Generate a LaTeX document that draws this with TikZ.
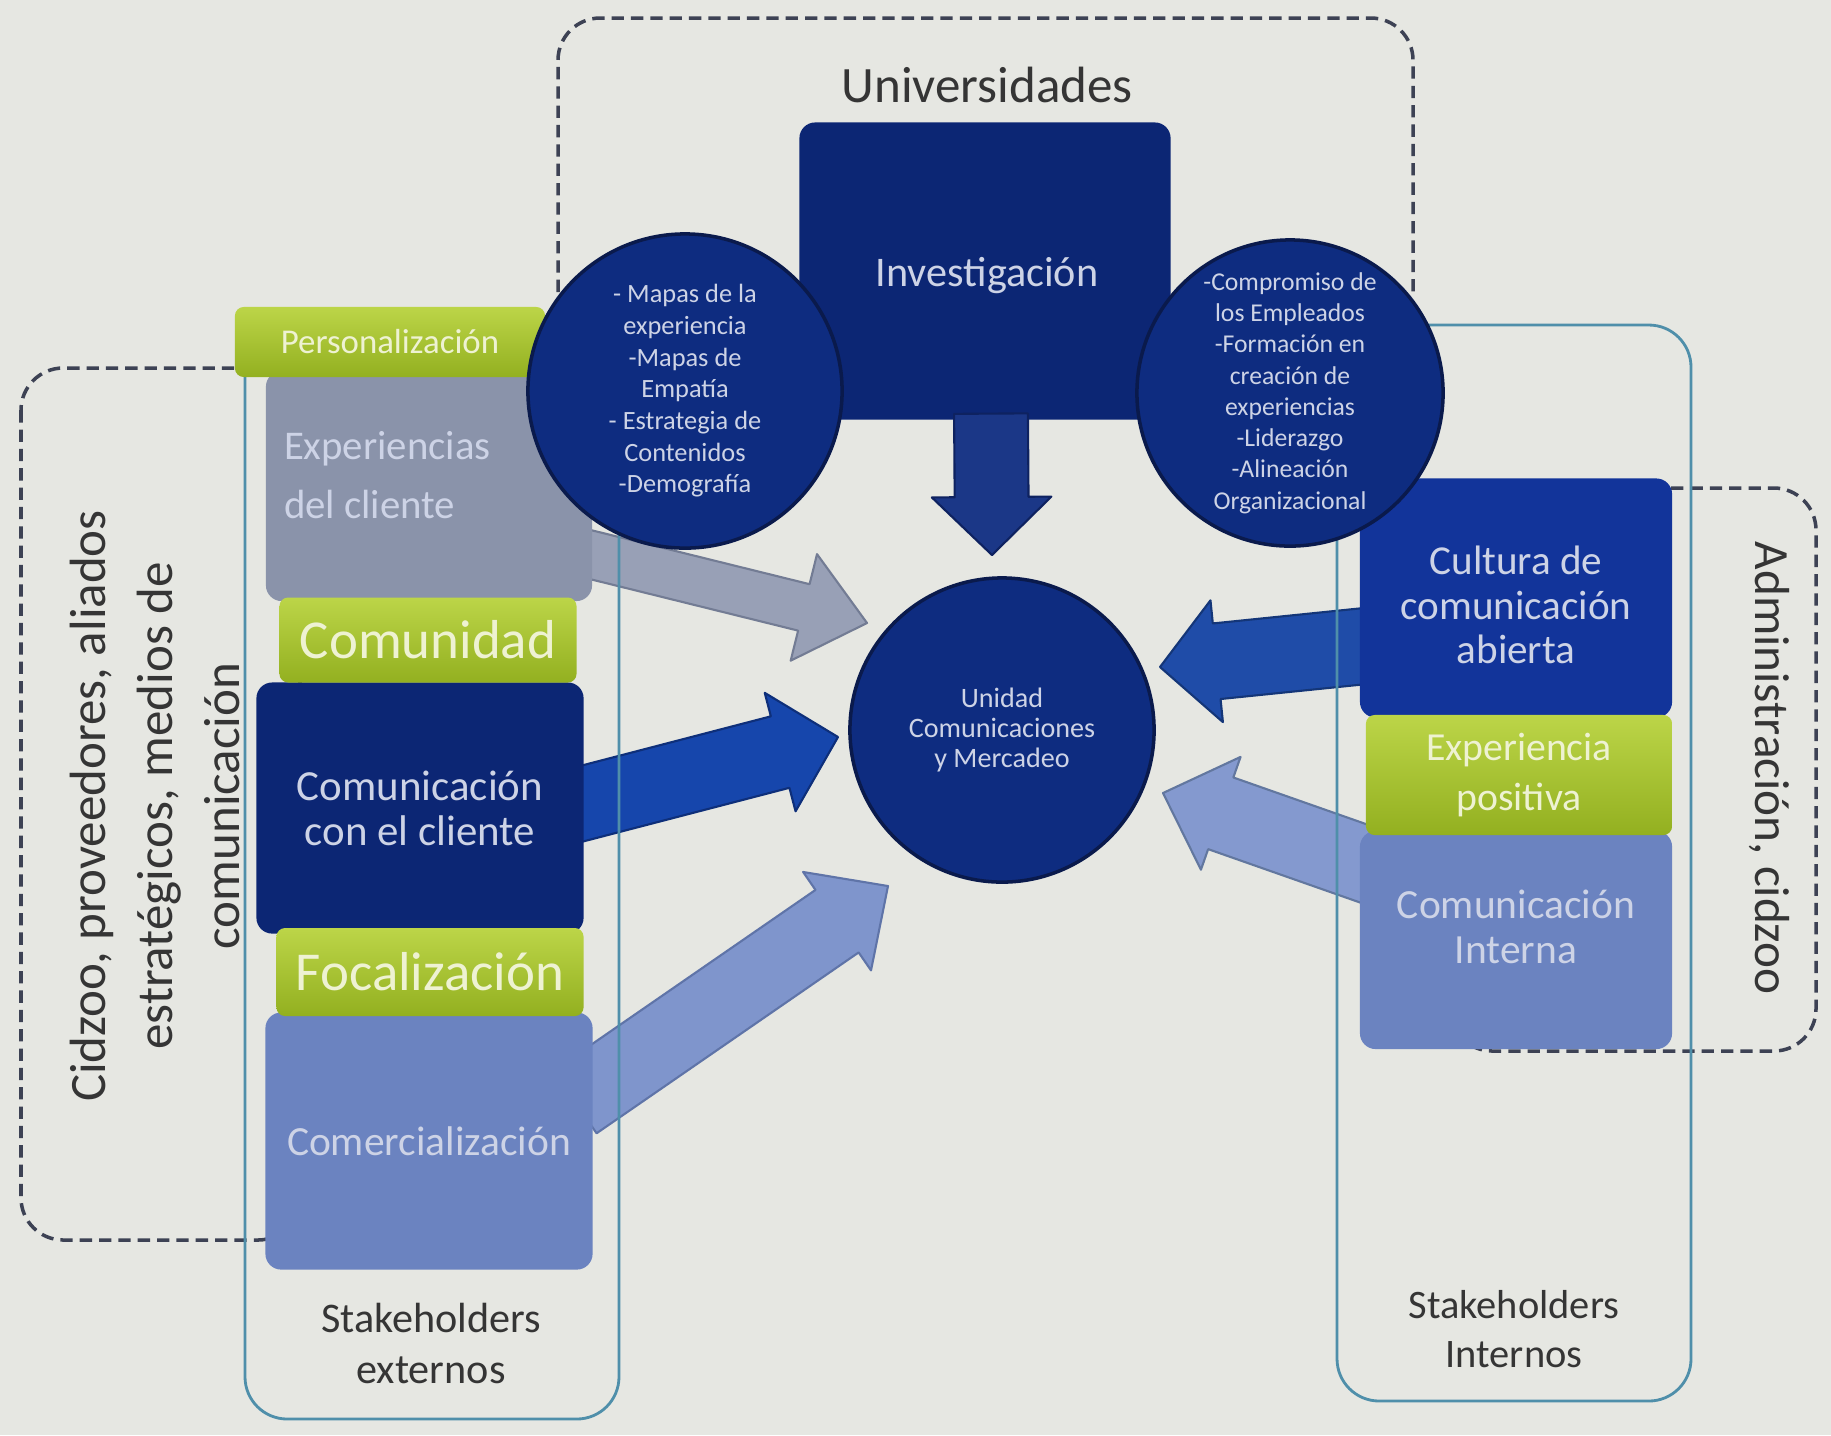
\documentclass[tikz,border=0pt]{standalone}
\usepackage{fontspec}
\setmainfont{Carlito}
\usetikzlibrary{calc}
\newcommand\fs[2]{\fontsize{#1pt}{#2pt}\selectfont}
\definecolor{bg}{HTML}{E6E7E2}
\definecolor{navy}{HTML}{0C2674}
\definecolor{navyc}{HTML}{0E2C80}
\definecolor{navyedge}{HTML}{0A1A4C}
\definecolor{bluebox}{HTML}{12349A}
\definecolor{greybox}{HTML}{8A93AA}
\definecolor{periw}{HTML}{6B83C0}
\definecolor{greenhi}{HTML}{BCD548}
\definecolor{greenlo}{HTML}{93B020}
\definecolor{tealc}{HTML}{4F8FAA}
\definecolor{dashc}{HTML}{3D4254}
\definecolor{boxtext}{HTML}{CDD3E6}
\definecolor{greentext}{HTML}{EEF2D2}
\definecolor{labeltext}{HTML}{353535}
\definecolor{aAfill}{HTML}{98A0B6}\definecolor{aAedge}{HTML}{737C94}
\definecolor{aBfill}{HTML}{1646AC}\definecolor{aBedge}{HTML}{0E2F7A}
\definecolor{aCfill}{HTML}{7F95CC}\definecolor{aCedge}{HTML}{5F74A8}
\definecolor{aDfill}{HTML}{1F4CA8}\definecolor{aDedge}{HTML}{143678}
\definecolor{aEfill}{HTML}{8499CF}\definecolor{aEedge}{HTML}{62779F}
\definecolor{aFfill}{HTML}{1B3787}\definecolor{aFedge}{HTML}{0E2260}
% block arrow: style, start, tip, shaft half width, head half width, head length
\newcommand\blockarrow[6]{%
  \coordinate (abase) at ($(#3)!#6!(#2)$);
  \filldraw[#1] ($(#2)!#4!90:(#3)$) -- ($(abase)!#4!90:(#3)$) -- ($(abase)!#5!90:(#3)$)
    -- (#3) -- ($(abase)!#5!-90:(#3)$) -- ($(abase)!#4!-90:(#3)$) -- ($(#2)!#4!-90:(#3)$) -- cycle;
}
\begin{document}
\begin{tikzpicture}[x=0.01cm,y=-0.01cm,
  every node/.style={inner sep=0pt, outer sep=0pt},
  panel/.style={rounded corners=4.5pt, align=center, text=boxtext},
  navybox/.style={panel, fill=navy},
  bluebox/.style={panel, fill=bluebox},
  greybox/.style={panel, fill=greybox},
  periwbox/.style={panel, fill=periw},
  greenbar/.style={rounded corners=2.5pt, top color=greenhi, bottom color=greenlo, text=greentext, align=center},
  bubble/.style={circle, fill=navyc, draw=navyedge, line width=1pt, text=boxtext, align=center},
  dashbox/.style={draw=dashc, line width=1pt, dash pattern=on 3.5pt off 2pt, rounded corners=12pt},
  tealbox/.style={draw=tealc, line width=0.8pt, rounded corners=12pt},
  label/.style={text=labeltext, align=center},
  arrA/.style={fill=aAfill, draw=aAedge, line width=0.6pt, line join=round},
  arrB/.style={fill=aBfill, draw=aBedge, line width=0.6pt, line join=round},
  arrC/.style={fill=aCfill, draw=aCedge, line width=0.6pt, line join=round},
  arrD/.style={fill=aDfill, draw=aDedge, line width=0.6pt, line join=round},
  arrE/.style={fill=aEfill, draw=aEedge, line width=0.6pt, line join=round},
  arrF/.style={fill=aFfill, draw=aFedge, line width=0.6pt, line join=round}]
\useasboundingbox (0,0) rectangle (1831,1435);
\fill[bg] (0,0) rectangle (1831,1435);

% dashed group frames
\draw[dashbox] (558,292) -- (558,18) -- (1413,18) -- (1413,292);
\draw[dashbox] (21,368) rectangle (300,1240);
\draw[dashbox] (1450,488) rectangle (1816,1051);

% group labels
\node[label, font=\fs{14.5}{16}] (univ) at (987,85) {Universidades};
\node[label, rotate=90, font=\fs{14.5}{19}] (extlab) at (155,806) {Cidzoo, proveedores, aliados\\estratégicos, medios de\\comunicación};
\node[label, rotate=-90, font=\fs{14}{16}] (intlab) at (1769,768) {Administración, cidzoo};

% arrow end points
\coordinate (aAs) at (580,552);   \coordinate (aAt) at (867,623);
\coordinate (aBs) at (565,808);   \coordinate (aBt) at (838,737);
\coordinate (aCs) at (575,1102);  \coordinate (aCt) at (888,886);
\coordinate (aDs) at (1385,644);  \coordinate (aDt) at (1160,667);
\coordinate (aEs) at (1385,871);  \coordinate (aEt) at (1163,793);

\blockarrow{arrA}{aAs}{aAt}{6.8pt}{15.6pt}{18.5pt}
\blockarrow{arrB}{aBs}{aBt}{10.5pt}{17.4pt}{17pt}
\blockarrow{arrC}{aCs}{aCt}{10.8pt}{17pt}{17.6pt}
\blockarrow{arrD}{aDs}{aDt}{10.8pt}{17.4pt}{16.2pt}
\blockarrow{arrE}{aEs}{aEt}{10.8pt}{17pt}{17.4pt}

% stakeholder frames
\draw[tealbox] (245,327) rectangle (619,1419);
\draw[tealbox] (1337,325) rectangle (1691,1401);
\node[label, font=\fs{12}{14.5}] (stext) at (431,1343) {Stakeholders\\externos};
\node[label, font=\fs{11.5}{14}] (stint) at (1514,1329) {Stakeholders\\Internos};

% left column
\node[greybox, minimum width=3.26cm, minimum height=2.30cm] (exp) at (429,486) {};
\node[anchor=west, align=left, text=boxtext, font=\fs{11.6}{17}] (expt) at (284,475) {Experiencias\\del cliente};
\node[navybox, minimum width=3.27cm, minimum height=2.51cm, font=\fs{12.2}{12.8}] (comcli) at (420,808) {Comunicación\\con el cliente};
\node[periwbox, minimum width=3.27cm, minimum height=2.57cm, font=\fs{11.8}{14}] (comer) at (429,1141) {Comercialización};
\node[greenbar, minimum width=3.10cm, minimum height=0.70cm, font=\fs{9.9}{12}] (pers) at (390,342) {Personalización};
\node[greenbar, minimum width=2.97cm, minimum height=0.85cm, font=\fs{15.6}{18}] (comun) at (428,640) {Comunidad};
\node[greenbar, minimum width=3.07cm, minimum height=0.88cm, font=\fs{15.6}{18}] (focal) at (430,972) {Focalización};

% right column
\node[bluebox, minimum width=3.12cm, minimum height=2.39cm] (cult) at (1516,598) {};
\node[text=boxtext, align=center, font=\fs{11.7}{12.6}] (cultt) at (1516,605) {Cultura de\\comunicación\\abierta};
\node[periwbox, minimum width=3.12cm, minimum height=2.18cm] (cint) at (1516,940) {};
\node[text=boxtext, align=center, font=\fs{11.8}{12.6}] (cintt) at (1516,927) {Comunicación\\Interna};
\node[greenbar, minimum width=3.06cm, minimum height=1.20cm, font=\fs{11.3}{14}] (exppos) at (1519,775) {Experiencia\\positiva};

% top
\node[navybox, minimum width=3.71cm, minimum height=2.97cm] (inv) at (985,271) {};
\node[text=boxtext, font=\fs{12}{14}] (invt) at (987,276) {Investigación};
\coordinate (aFs) at ($(inv.south)+(6,-6)$);
\coordinate (aFt) at (992,555);
\blockarrow{arrF}{aFs}{aFt}{10.5pt}{17pt}{16.5pt}

% circles
\node[bubble, minimum size=3.14cm, font=\fs{7.5}{9}] (cleft) at (685,391) {- Mapas de la\\experiencia\\-Mapas de\\Empatía\\- Estrategia de\\Contenidos\\-Demografía};
\node[bubble, minimum size=3.06cm, font=\fs{7.3}{8.9}] (cright) at (1290,393) {-Compromiso de\\los Empleados\\-Formación en\\creación de\\experiencias\\-Liderazgo\\-Alineación\\Organizacional};
\node[bubble, minimum size=3.04cm, font=\fs{8}{8.6}] (unit) at (1002,730) {Unidad\\Comunicaciones\\y Mercadeo};
\end{tikzpicture}
\end{document}
